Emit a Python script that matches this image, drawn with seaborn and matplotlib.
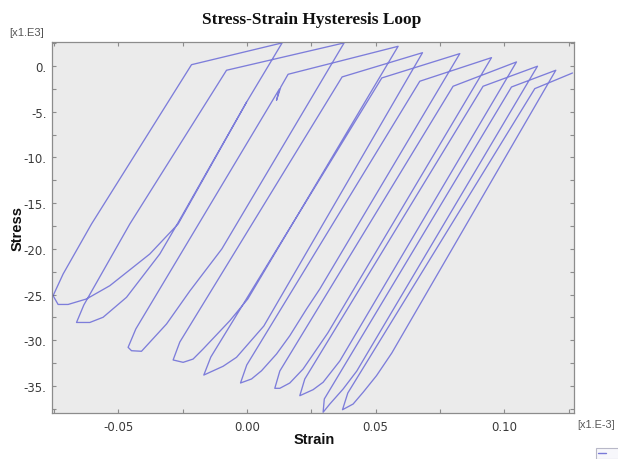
import matplotlib
matplotlib.use("Agg")
import matplotlib.pyplot as plt
import matplotlib.ticker as mticker
import seaborn as sns
import pandas as pd
from matplotlib.patches import Rectangle
from matplotlib.lines import Line2D

# ---- data (strain in 1e-3, stress in 1e3), path in drawing order ----
initial_strain = [-0.0002, -0.02678, -0.03778, -0.05333, -0.06239, -0.06954, -0.07343, -0.07537]
initial_stress = [-3.97, -17.28, -20.56, -24.03, -25.48, -26.08, -26.08, -25.12]

cycle1_strain = [-0.07148, -0.06044, -0.02157, 0.01364, -0.0002, -0.02709, -0.03390, -0.04684, -0.05593, -0.06110, -0.06627]
cycle1_stress = [-22.75, -17.28, 0.14, 2.52, -3.97, -17.28, -20.56, -25.30, -27.48, -28.05, -28.05]

cycle2_strain = [-0.06343, -0.04555, -0.00797, 0.03774, -0.00979, -0.02223, -0.03129, -0.04101, -0.04489, -0.04622]
cycle2_stress = [-26.14, -17.28, -0.47, 2.52, -20.01, -24.61, -28.22, -31.20, -31.14, -30.77]

cycle3_strain = [-0.04322, 0.01259, 0.01147, 0.01314, 0.01597, 0.05873, 0.0003, -0.00668, -0.01706, -0.02095, -0.02483, -0.02872]
cycle3_stress = [-28.76, -2.52, -3.75, -2.30, -0.91, 2.15, -25.48, -27.86, -30.95, -32.05, -32.41, -32.15]

cycle4_strain = [-0.02612, 0.03696, 0.06821, 0.00653, -0.00408, -0.00929, -0.01679]
cycle4_stress = [-30.19, -1.20, 1.45, -28.44, -31.86, -32.84, -33.80]

cycle5_strain = [-0.01407, 0.05239, 0.08271, 0.02829, 0.02313, 0.01663, 0.01147, 0.00564, 0.00175, -0.00253]
cycle5_stress = [-31.83, -1.31, 1.35, -24.39, -26.58, -29.50, -31.50, -33.33, -34.23, -34.67]

cycle6_strain = [-0.0001, 0.06716, 0.09503, 0.03140, 0.02180, 0.01663, 0.01275, 0.01080]
cycle6_stress = [-32.70, -1.67, 0.91, -29.20, -33.14, -34.67, -35.25, -35.25]

cycle7_strain = [0.01275, 0.08010, 0.10474, 0.03607, 0.02958, 0.02569, 0.02052]
cycle7_stress = [-33.36, -2.22, 0.44, -32.26, -34.59, -35.40, -36.06]

cycle8_strain = [0.02246, 0.09176, 0.11290, 0.04267, 0.03735, 0.03218, 0.02958]
cycle8_stress = [-34.23, -2.22, -0.03, -33.36, -35.33, -36.97, -37.87]

cycle9_strain = [0.03004, 0.10280, 0.12002, 0.05628, 0.05033, 0.04512, 0.04124, 0.03712]
cycle9_stress = [-36.42, -2.30, -0.47, -31.39, -33.87, -35.69, -36.97, -37.59]

cycle10_strain = [0.03918, 0.11186, 0.12651]
cycle10_stress = [-35.76, -2.48, -0.77]

x_ticks = [-0.05, 0.0, 0.05, 0.10]
y_ticks = [0, -5, -10, -15, -20, -25, -30, -35]

segs_x = [initial_strain, cycle1_strain, cycle2_strain, cycle3_strain, cycle4_strain,
          cycle5_strain, cycle6_strain, cycle7_strain, cycle8_strain, cycle9_strain, cycle10_strain]
segs_y = [initial_stress, cycle1_stress, cycle2_stress, cycle3_stress, cycle4_stress,
          cycle5_stress, cycle6_stress, cycle7_stress, cycle8_stress, cycle9_stress, cycle10_stress]
px, py = [], []
for a, b in zip(segs_x, segs_y):
    px += a
    py += b
df = pd.DataFrame({"Strain": px, "Stress": py})

# ---- style ----
sns.set_style("ticks", {"axes.facecolor": "#ebebeb", "axes.edgecolor": "#8c8c8c"})
plt.rcParams["font.family"] = ["DejaVu Sans"]

fig = plt.figure(figsize=(6.18, 4.60), dpi=100)
ax = fig.add_axes([52 / 618, 1 - 414 / 460, (574 - 52) / 618, (414 - 43) / 460])

sns.lineplot(data=df, x="Strain", y="Stress", sort=False, estimator=None,
             color="#3a3ad0", alpha=0.62, linewidth=0.95, ax=ax)

ax.set_xlim(-0.0758, 0.1271)
ax.set_ylim(-37.95, 2.62)

ax.xaxis.set_major_locator(mticker.FixedLocator(x_ticks))
ax.xaxis.set_minor_locator(mticker.MultipleLocator(0.025))
ax.yaxis.set_major_locator(mticker.FixedLocator(y_ticks))
ax.yaxis.set_minor_locator(mticker.MultipleLocator(2.5))

def xfmt(v, pos):
    s = f"{v:.2f}"
    return "0.00" if s == "-0.00" else s

def yfmt(v, pos):
    return f"{int(round(v))}."

ax.xaxis.set_major_formatter(mticker.FuncFormatter(xfmt))
ax.yaxis.set_major_formatter(mticker.FuncFormatter(yfmt))
ax.tick_params(which="both", direction="in", length=3, width=0.8, color="#8c8c8c",
               top=True, right=True, labelsize=8.5, labelcolor="#3a3a3a")
ax.tick_params(axis="x", pad=5)
ax.tick_params(axis="y", pad=4)
for s in ax.spines.values():
    s.set_linewidth(0.9)
    s.set_color("#8c8c8c")

ax.set_xlabel("Strain", fontsize=10.5, fontweight="bold", family="Liberation Sans", color="#111111")
ax.set_ylabel("Stress", fontsize=10.5, fontweight="bold", family="Liberation Sans", color="#111111")
ax.xaxis.set_label_coords(0.503, -0.05)
ax.yaxis.set_label_coords(-0.053, 0.50)
ax.xaxis.label.set_va("top")

fig.text(312 / 618, 1 - 20 / 460, "Stress-Strain Hysteresis Loop", ha="center", va="center",
         fontsize=12.5, fontweight="bold", family="Liberation Serif", color="#111111")
fig.text(9 / 618, 1 - 33 / 460, "[x1.E3]", ha="left", va="center", fontsize=8,
         family="Liberation Sans", color="#555555")
fig.text(577 / 618, 1 - 425 / 460, "[x1.E-3]", ha="left", va="center", fontsize=7.8,
         family="Liberation Sans", color="#555555")

# clipped legend box in the bottom-right corner
fig.patches.append(Rectangle((596 / 618, 0.0), 30 / 618, 11 / 460, transform=fig.transFigure,
                             facecolor="#f7f7fb", edgecolor="#b8b8c8", linewidth=0.8))
fig.lines.append(Line2D([598 / 618, 606 / 618], [6 / 460, 6 / 460], transform=fig.transFigure,
                        color="#7a7ad8", linewidth=1))

fig.savefig("out.png", dpi=100)
